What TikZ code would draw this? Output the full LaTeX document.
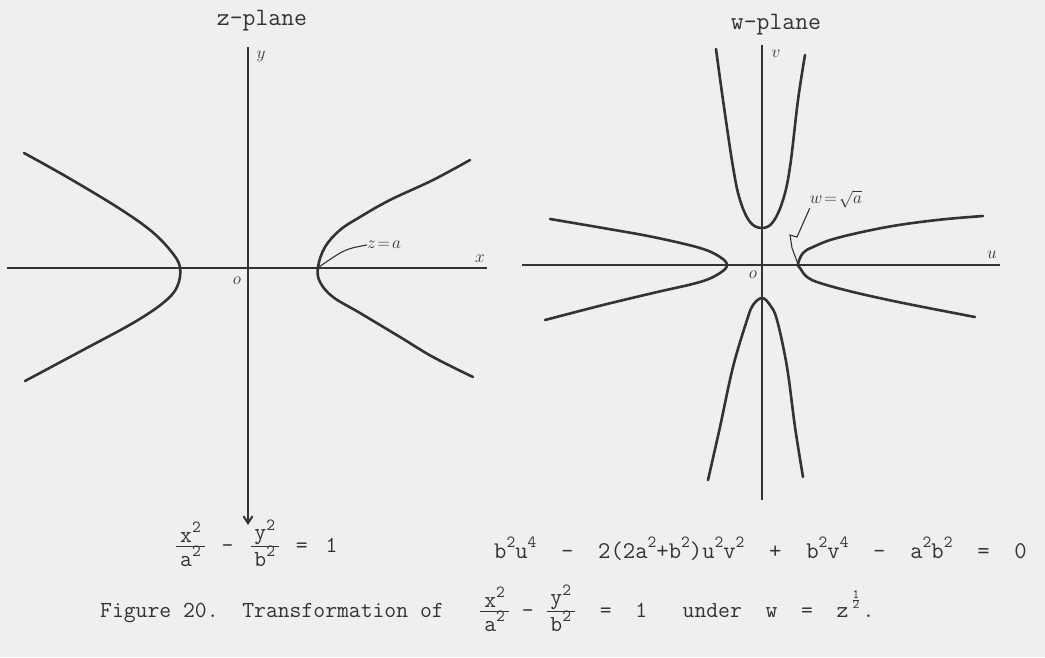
\documentclass[tikz,border=0pt]{standalone}
\usepackage{fontspec}
\usepackage{xcolor}
\usepackage{tikz}
\usetikzlibrary{positioning, arrows.meta}
\definecolor{inkgray}{HTML}{333333}
\definecolor{papergray}{HTML}{EFEFEF}
\newcommand{\sq}[1]{\raisebox{0.42em}{\fontsize{17}{17}\selectfont #1}}
\newcommand{\tfrac}[2]{$\frac{\hbox{\,#1\,}}{\hbox{\,#2\,}}$}
\tikzset{
  axisline/.style={draw=inkgray, line width=2pt},
  branch/.style={draw=inkgray, line width=2.6pt, line cap=round, line join=round},
  typed/.style={text=inkgray, inner sep=0pt, font=\fontsize{23}{27}\selectfont\ttfamily},
  hand/.style={text=inkgray, inner sep=0pt, font=\fontsize{19}{22}\selectfont},
  leader/.style={draw=inkgray, line width=1.1pt},
}

\begin{document}
\begin{tikzpicture}[x=1pt, y=-1pt]
  \fill[papergray] (0,0) rectangle (1045,657);
  \useasboundingbox (0,0) rectangle (1045,657);

  % z-plane
  \coordinate (zO) at (248,268);
  \coordinate (zA) at (319,267);
  \draw[axisline] (7,268) -- (487,268);
  \draw[axisline, -{Straight Barb[length=7pt, width=9pt]}] (248,47) -- (248,525);
  \node[typed, font=\fontsize{25}{28}\selectfont\ttfamily] (ztitle) at (262,21) {z-plane};
  \node[hand] (ylab) at (261,56) {$y$};
  \node[hand] (xlab) at (480,259) {$x$};
  \node[hand] (zo) at (237,281) {$o$};
  \draw[branch] plot[smooth, tension=0.6] coordinates {(24,153) (67,177) (117,207) (150,230) (170,250) (180,267)
    (177,287) (163,303) (133,323) (83,350) (25,381)};
  \draw[branch] plot[smooth, tension=0.6] coordinates {(470,160) (433,180) (390,200) (360,217) (340,230) (325,247)
    (318,267) (320,282) (333,297) (360,313) (400,337) (433,357) (473,377)};
  \node[hand] (zlab) at (384,245) {$z\!=\!a$};
  \draw[leader] (zlab.west) .. controls (345,249) .. (zA);

  % w-plane
  \coordinate (wO) at (762,265);
  \coordinate (wA) at (798,264);
  \draw[axisline] (522,265) -- (1000,265);
  \draw[axisline] (762,45) -- (762,500);
  \node[typed, font=\fontsize{25}{28}\selectfont\ttfamily] (wtitle) at (776,25) {w-plane};
  \node[hand] (vlab) at (776,54) {$v$};
  \node[hand] (ulab) at (992,255) {$u$};
  \node[hand] (wo) at (753,275) {$o$};
  \draw[branch] plot[smooth, tension=0.6] coordinates {(550,219) (603,228) (653,237) (700,248) (720,257) (727,265)
    (720,273) (700,282) (653,293) (603,305) (545,320)};
  \draw[branch] plot[smooth, tension=0.6] coordinates {(983,216) (937,220) (887,227) (837,238) (813,247) (803,253)
    (798,264) (800,268) (807,277) (820,283) (853,292) (903,303) (975,317)};
  \draw[branch] plot[smooth, tension=0.6] coordinates {(716,49) (723,100) (733,167) (740,200) (750,222) (762,228)
    (773,222) (783,200) (790,167) (798,100) (805,55)};
  \draw[branch] plot[smooth, tension=0.6] coordinates {(708,480) (720,427) (733,367) (747,320) (753,305) (762,298)
    (770,305) (777,320) (787,367) (795,427) (803,477)};
  \node[hand] (wlab) at (836,199) {$w\!=\!\sqrt{a}$};
  \draw[leader] (wlab.south west) -- (797,237) -- (790,235) -- (792,248) -- (wA);

  % equations and caption
  \node[typed, anchor=base west] (zeq) at (175,552)
    {\tfrac{x\sq2}{a\sq2}\hspace{4pt} - \hspace{4pt}\tfrac{y\sq2}{b\sq2}\hspace{4pt} = \hspace{6pt}1};
  \node[typed, font=\fontsize{24}{28}\selectfont\ttfamily, anchor=base west] (weq) at (494,558)
    {b\sq2u\sq4\ \ -\ \ 2(2a\sq2+b\sq2)u\sq2v\sq2\ \ +\ \ b\sq2v\sq4\ \ -\ \ a\sq2b\sq2\ \ =\ \ 0};
  \node[typed, anchor=base west] (caption) at (100,617)
    {Figure 20.\ \ Transformation of\ \ \ \tfrac{x\sq2}{a\sq2}\ -\ \tfrac{y\sq2}{b\sq2}\ \ =\ \ 1\ \ \ under\ \ w\ \ =\ \ z\hspace{3pt}\raisebox{0.62em}{\fontsize{13}{13}\selectfont$\frac{\hbox{1}}{\hbox{2}}$}\hspace{2pt}.};
\end{tikzpicture}
\end{document}
